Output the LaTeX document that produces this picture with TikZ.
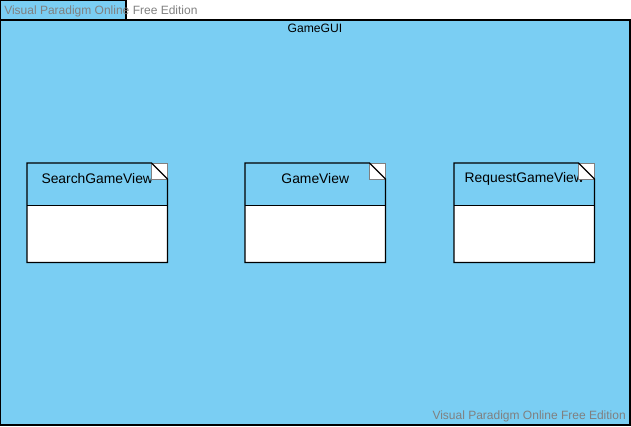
\documentclass[tikz,border=0pt]{standalone}
\usepackage{fontspec}
\setmainfont{Liberation Sans}
\usetikzlibrary{positioning,calc}

\definecolor{pkgblue}{RGB}{122,206,243}
\definecolor{vpgray}{RGB}{128,128,128}

\tikzset{
  frame/.style={draw=black, line width=0.8pt, fill=pkgblue},
  viewbody/.style={fill=white, minimum width=105pt, minimum height=74.25pt, inner sep=0pt, anchor=north west},
  viewhead/.style={fill=pkgblue, minimum width=105pt, minimum height=31.5pt, inner sep=0pt, anchor=north west},
  viewlabel/.style={font=\fontsize{10.4pt}{12pt}\selectfont, inner sep=0pt},
  pkglabel/.style={font=\fontsize{9.1pt}{11pt}\selectfont, inner sep=0pt},
  outline/.style={draw=black, line width=1pt},
  corner/.style={draw=vpgray, fill=white, line width=0.6pt},
  watermark/.style={text=vpgray, font=\fontsize{9pt}{11pt}\selectfont, inner sep=0pt}
}

% one view class box of the package
\newcommand{\viewbox}[3]{%
  \node[viewbody] (#1) at (#2,163) {};
  \node[viewhead] (#1head) at (#2,163) {};
  \node[viewlabel] (#1label) at ($(#1head.north)+(0,16)$) {#3};
  \draw[corner] ($(#1.north east)+(-16,0)$) rectangle ($(#1.north east)+(0,16)$);
  \draw[outline] ($(#1.north east)+(-16,0)$) -- (#1.north west) -- (#1.south west)
    -- (#1.south east) -- ($(#1.north east)+(0,16)$) -- cycle;
  \draw[outline] (#1head.south west) -- (#1head.south east);
}

\begin{document}
\begin{tikzpicture}[x=0.75pt, y=-0.75pt]
  \useasboundingbox (0,0) rectangle (631,426);

  % package GameGUI
  \draw[frame] (0,0) rectangle (126,20);
  \draw[frame] (0,20) rectangle (630,425);
  \node[pkglabel] (gui) at (315,28) {GameGUI};

  \viewbox{search}{27}{SearchGameView}
  \viewbox{game}{245}{GameView}
  \viewbox{request}{454}{RequestGameView}

  % watermarks
  \node[watermark, anchor=west] (wmtop) at (4,11) {Visual Paradigm Online Free Edition};
  \node[watermark, anchor=east] (wmbottom) at (626,416) {Visual Paradigm Online Free Edition};
\end{tikzpicture}
\end{document}
